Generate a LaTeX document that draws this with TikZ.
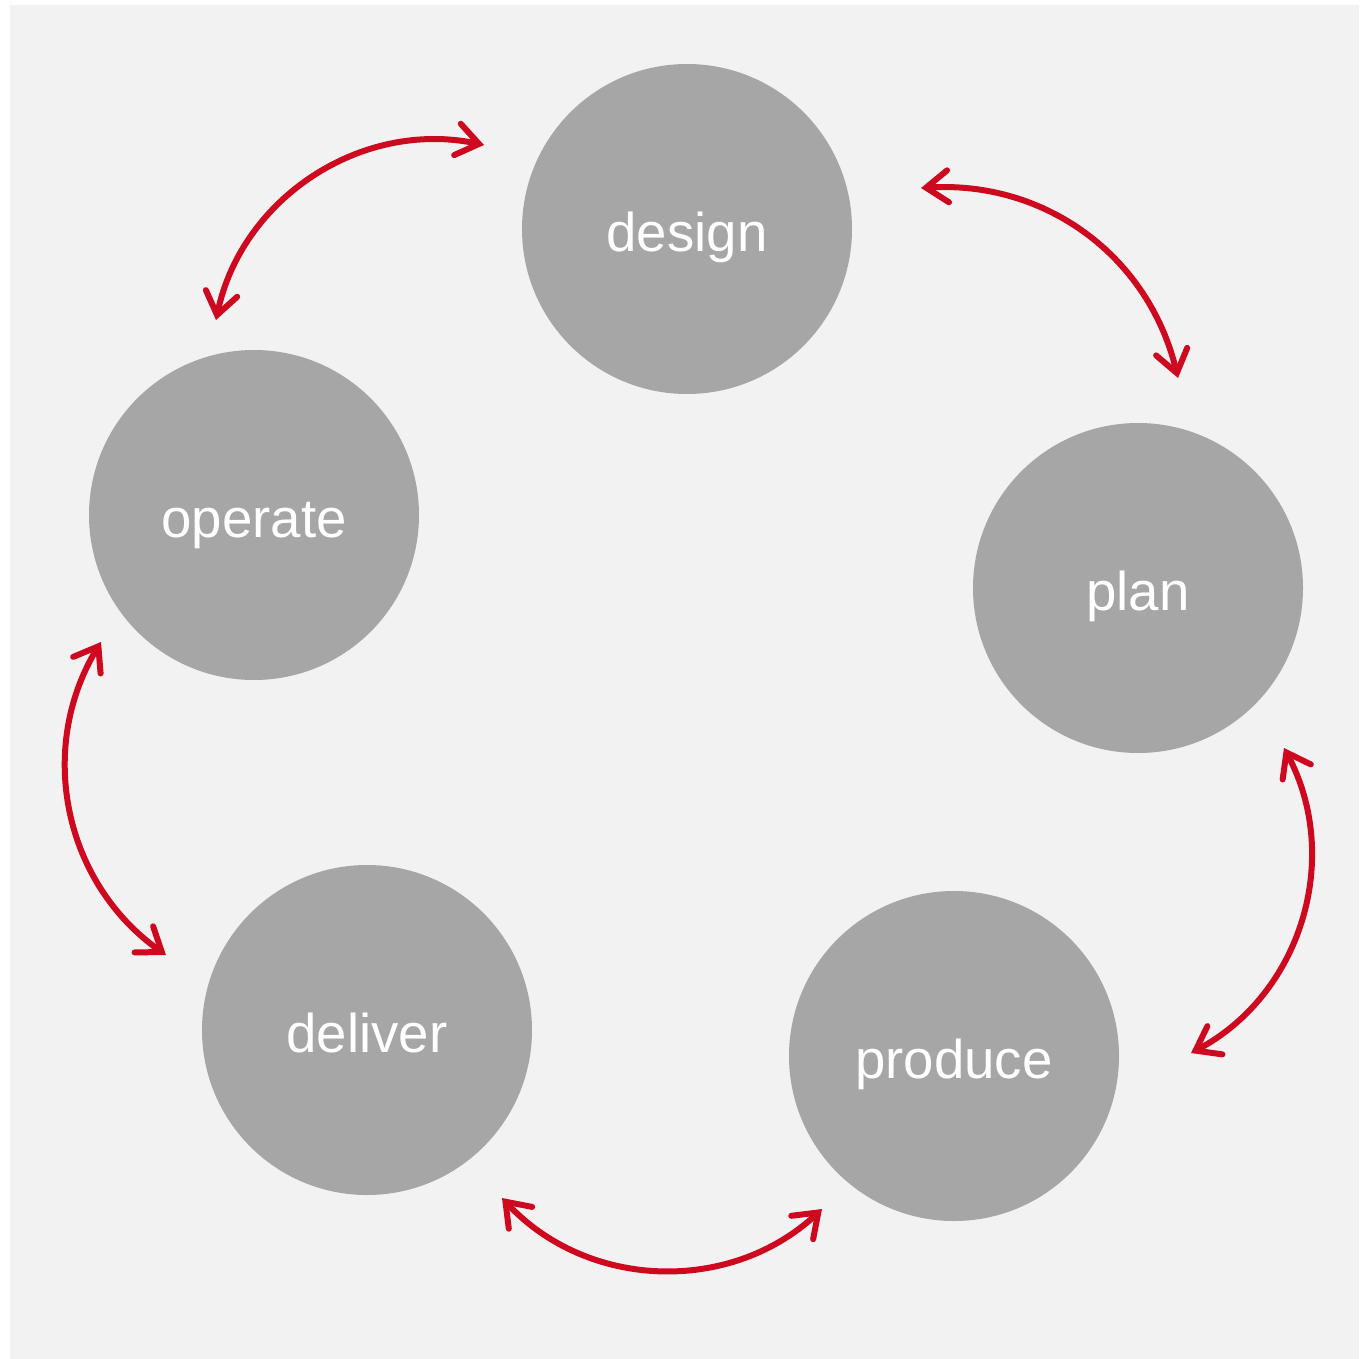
\documentclass[tikz,border=0pt]{standalone}
\usepackage{fontspec}
\setmainfont{Liberation Sans}
\usetikzlibrary{arrows.meta}
\definecolor{bgcol}{RGB}{242,242,242}
\definecolor{circcol}{RGB}{166,166,166}
\definecolor{arrcol}{RGB}{206,8,30}
\tikzset{
  stage/.style={circle, fill=circcol, draw=none, minimum size=165pt, inner sep=0pt,
    text=white, text height=22pt, text depth=0pt, font=\fontsize{27.3pt}{32pt}\selectfont},
  link/.style={draw=arrcol, line width=3pt, line cap=round,
    {Straight Barb[length=11pt,width=16pt,line cap=round]}-{Straight Barb[length=11pt,width=16pt,line cap=round]}}
}
\begin{document}
\begin{tikzpicture}[x=0.5pt,y=-0.5pt]
\useasboundingbox (0,0) rectangle (1359,1359);
\fill[white] (0,0) rectangle (1359,1359);
\fill[bgcol] (10,5) rectangle (1359,1359);

\node[stage] (design)  at (687,229)  {design};
\node[stage] (operate) at (254,515)  {operate};
\node[stage] (plan)    at (1138,588) {plan};
\node[stage] (deliver) at (367,1030) {deliver};
\node[stage] (produce) at (954,1056) {produce};

\coordinate (od1) at (216,320);
\coordinate (od2) at (484,145);
\coordinate (dp1) at (921,188);
\coordinate (dp2) at (1178,378);
\coordinate (pp1) at (1284,748);
\coordinate (pp2) at (1191,1053);
\coordinate (pd1) at (502,1198);
\coordinate (pd2) at (822,1209);
\coordinate (do1) at (101,642);
\coordinate (do2) at (166,955);

\draw[link] (od1) to[bend left=45] (od2);
\draw[link] (dp1) to[bend left=40] (dp2);
\draw[link] (pp1) to[bend left=45] (pp2);
\draw[link] (pd2) to[bend left=45] (pd1);
\draw[link] (do2) to[bend left=43] (do1);
\end{tikzpicture}
\end{document}
